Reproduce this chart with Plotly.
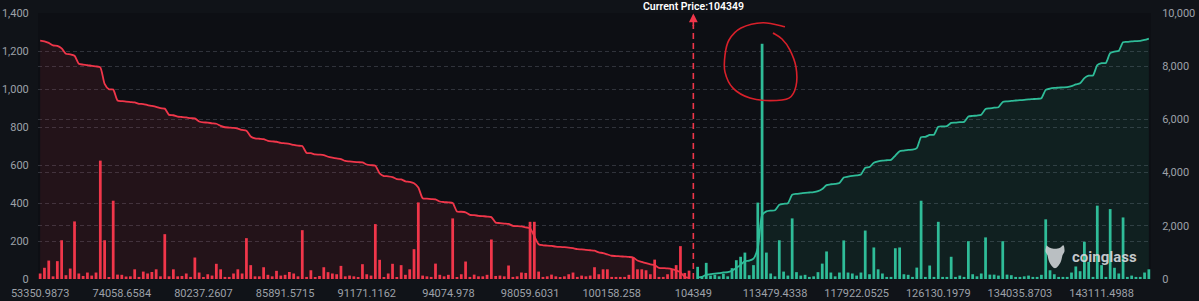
import numpy as np
import plotly.graph_objects as go

# ---------------- data ----------------
tick_labels = ["53350.9873", "74058.6584", "80237.2607", "85891.5715", "91171.1162",
               "94074.978", "98059.6031", "100158.258", "104349", "113479.4338",
               "117922.0525", "126130.1979", "134035.8703", "143111.4988"]
tick_step = 19            # one label every 19 price buckets
n_buckets = 259
current_index = 152       # bucket of the current price 104349
current_price_text = "Current Price:104349"

# short (red) liquidation leverage per bucket, buckets 0..151 (below current price)
red_liq = [29, 59, 97, 14, 94, 204, 20, 55, 303, 29, 16, 34, 18, 34, 623, 204, 9, 412, 23, 22,
           13, 14, 51, 11, 39, 29, 37, 51, 14, 236,
           14, 51, 14, 16, 29, 11, 113, 34, 9, 25, 18, 80, 51, 11, 11, 29, 51, 29, 215, 73,
           14, 14, 62, 22, 14, 43, 18, 22, 37, 29,
           14, 257, 11, 46, 9, 16, 62, 36, 29, 25, 69, 14, 18, 14, 9, 78, 25, 18, 289, 101,
           9, 29, 80, 9, 73, 22, 51, 157, 403, 18,
           14, 11, 81, 22, 14, 22, 319, 9, 25, 92, 11, 23, 14, 14, 22, 208, 16, 18, 14, 71,
           11, 14, 34, 32, 301, 301, 39, 11, 14, 23,
           14, 9, 14, 25, 34, 11, 18, 14, 18, 62, 25, 51, 51, 11, 11, 11, 11, 22, 113, 51,
           51, 46, 25, 102, 11, 11, 25, 51, 73, 173, 32, 44]

# long (green) liquidation leverage per bucket, buckets 153..258 (above current price)
green_liq = [64, 14, 85, 18, 22, 14, 27, 14, 57, 99, 117, 139, 20, 73, 402, 1238, 139, 29, 14, 204,
             39, 18, 319,
             36, 18, 22, 11, 14, 36, 81, 145, 34, 14, 34, 203, 34, 29, 18, 34, 255, 25, 166, 51,
             29, 11, 11, 162, 166,
             25, 22, 11, 60, 412, 11, 71, 11, 301, 11, 11, 117, 11, 18, 11, 199, 25, 14, 29, 219,
             23, 23, 18, 199, 23, 20, 11, 11, 14, 18,
             11, 11, 22, 314, 46, 25, 11, 11, 11, 34, 66, 41, 196, 90, 11, 386, 73, 11, 368, 59,
             29, 324, 11, 18, 11, 11, 34, 51]

# ---------------- derived ----------------
red_x = list(range(0, len(red_liq)))
green_x = list(range(current_index + 1, current_index + 1 + len(green_liq)))
red_cum = np.cumsum(red_liq[::-1])[::-1]      # cumulative toward lower prices
green_cum = np.cumsum(green_liq)              # cumulative toward higher prices
tick_vals = [i * tick_step for i in range(len(tick_labels))]

RED = "#f0364a"
GREEN = "#2fbc98"
BG_PAPER = "#101318"
BG_PLOT = "#0d0f14"
GRID = "#30333b"
TXT = "#9da1a8"
FONT = "Roboto"

fig = go.Figure()

# cumulative curves (right axis)
fig.add_trace(go.Scatter(x=red_x, y=red_cum, yaxis="y", mode="lines",
                         line=dict(color=RED, width=1.8, shape="spline", smoothing=0.6),
                         fill="tozeroy", fillcolor="rgba(240,54,74,0.10)", hoverinfo="skip"))
fig.add_trace(go.Scatter(x=green_x, y=green_cum, yaxis="y", mode="lines",
                         line=dict(color=GREEN, width=1.8, shape="spline", smoothing=0.6),
                         fill="tozeroy", fillcolor="rgba(47,188,152,0.10)", hoverinfo="skip"))

# bars (left axis)
fig.add_trace(go.Bar(x=red_x, y=red_liq, yaxis="y2", marker=dict(color=RED, line=dict(width=0))))
fig.add_trace(go.Bar(x=green_x, y=green_liq, yaxis="y2", marker=dict(color=GREEN, line=dict(width=0))))

# pixel -> paper helpers for decorative drawings
PX0, PX1, PY0, PY1 = 38, 1151, 13, 278.7


def px(xp):
    return (xp - PX0) / (PX1 - PX0)


def py(yp):
    return (PY1 - yp) / (PY1 - PY0)


def smooth_path(points, close=False):
    pts = [(px(a), py(b)) for a, b in points]
    if close:
        pts = pts + pts[:1]
    n = len(pts)
    d = "M {:.5f},{:.5f}".format(*pts[0])
    for i in range(n - 1):
        p0 = pts[i - 1] if i > 0 else pts[i]
        p1 = pts[i]
        p2 = pts[i + 1]
        p3 = pts[i + 2] if i + 2 < n else pts[i + 1]
        c1 = (p1[0] + (p2[0] - p0[0]) / 6, p1[1] + (p2[1] - p0[1]) / 6)
        c2 = (p2[0] - (p3[0] - p1[0]) / 6, p2[1] - (p3[1] - p1[1]) / 6)
        d += " C {:.5f},{:.5f} {:.5f},{:.5f} {:.5f},{:.5f}".format(*c1, *c2, *p2)
    if close:
        d += " Z"
    return d


shapes = []
# current-price dashed marker
shapes.append(dict(type="line", xref="x", yref="paper", x0=current_index, x1=current_index,
                   y0=0, y1=0.955, line=dict(color=RED, width=1.6, dash="6px,4px")))
# hand drawn red loop around the spike
loop = [(785, 26.7), (763, 22.7), (741, 28), (729, 40), (725, 55), (725, 72), (733, 88),
        (750, 98), (770, 100.5), (789, 98), (796, 86), (796, 67), (790, 50), (782, 39), (773, 33)]
shapes.append(dict(type="path", xref="paper", yref="paper", path=smooth_path(loop),
                   line=dict(color="#d8202a", width=1.6)))
# coinglass logo (bull head)
logo = [(1046.5, 245), (1050, 247.5), (1055, 248.5), (1060, 247.5), (1063.5, 245), (1064.5, 251),
        (1062.5, 255), (1061, 261), (1058, 266), (1055, 268), (1052, 266), (1049, 261),
        (1047.5, 255), (1045.5, 251)]
shapes.append(dict(type="path", xref="paper", yref="paper", path=smooth_path(logo, close=True),
                   fillcolor="rgba(205,208,212,0.9)", line=dict(width=0)))

annotations = [
    dict(text=current_price_text, xref="x", x=current_index, yref="paper", y=1, yshift=7,
         yanchor="middle", showarrow=False,
         font=dict(family=FONT, size=10.5, color="#ffffff", weight=600)),
    dict(text="", xref="x", x=current_index, yref="paper", y=py(13.5), showarrow=True,
         ax=0, ay=14, arrowhead=2, arrowsize=1.1, arrowwidth=1.6, arrowcolor=RED),
    dict(text="coinglass", xref="paper", x=px(1104), yref="paper", y=py(256.5),
         xanchor="center", yanchor="middle", showarrow=False,
         font=dict(family=FONT, size=15, color="rgba(215,217,220,0.92)", weight=700)),
]

fig.update_layout(
    width=1199, height=301,
    margin=dict(l=38, r=48, t=13, b=22.3, autoexpand=False),
    paper_bgcolor=BG_PAPER, plot_bgcolor=BG_PLOT,
    showlegend=False, bargap=0.36, barmode="overlay",
    font=dict(family=FONT, size=11, color=TXT),
    xaxis=dict(range=[-0.5, n_buckets - 0.5], tickmode="array", tickvals=tick_vals,
               ticktext=tick_labels, showgrid=False, zeroline=False, showline=False,
               ticks="outside", ticklen=4, tickcolor="rgba(0,0,0,0)", automargin=False,
               tickfont=dict(size=11, color=TXT)),
    yaxis=dict(side="right", range=[0, 10000], tickmode="array",
               tickvals=[0, 2000, 4000, 6000, 8000, 10000], tickformat=",",
               showgrid=True, gridcolor=GRID, griddash="4px,3px", gridwidth=1,
               zeroline=False, showline=False, ticks="outside", ticklen=8,
               tickcolor="rgba(0,0,0,0)", automargin=False, tickfont=dict(size=11, color=TXT)),
    yaxis2=dict(side="left", overlaying="y", range=[0, 1400], tickmode="array",
                tickvals=[0, 200, 400, 600, 800, 1000, 1200, 1400], tickformat=",",
                showgrid=True, gridcolor=GRID, griddash="4px,3px", gridwidth=1,
                zeroline=False, showline=False, ticks="outside", ticklen=6,
                tickcolor="rgba(0,0,0,0)", automargin=False, tickfont=dict(size=11, color=TXT)),
    shapes=shapes, annotations=annotations,
)

fig.write_html("out.html")
